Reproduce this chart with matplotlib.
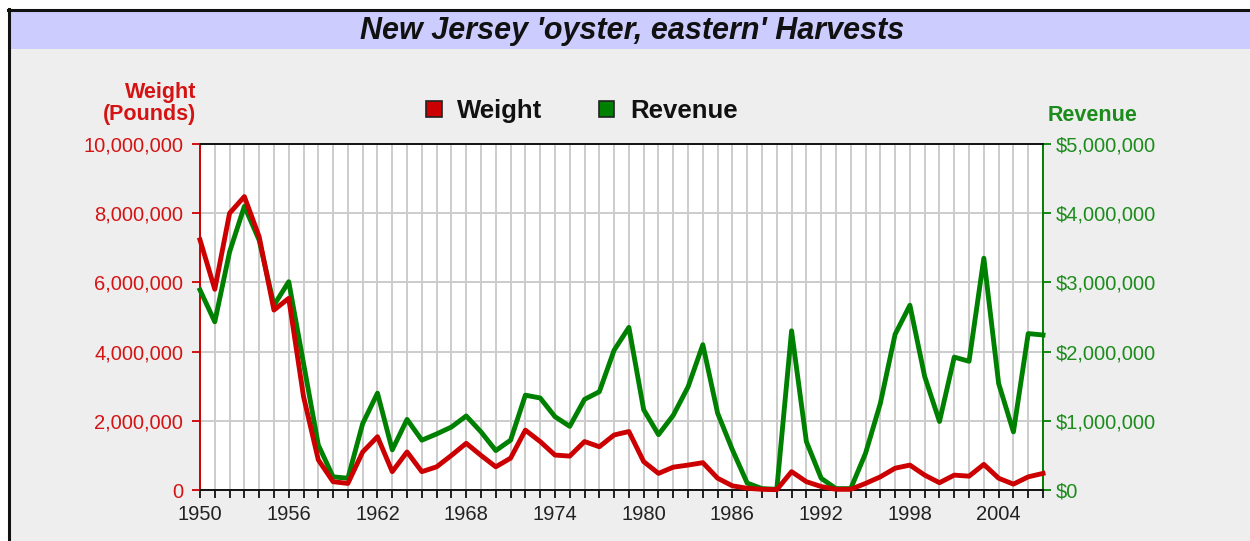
"""New Jersey 'oyster, eastern' harvests: weight and revenue by year."""

import numpy as np
import matplotlib
matplotlib.use("Agg")
from matplotlib import pyplot as plt
from matplotlib.patches import Patch, Rectangle
from matplotlib.lines import Line2D
from matplotlib.ticker import FuncFormatter, MultipleLocator

plt.rcParams["font.family"] = ["Liberation Sans", "DejaVu Sans"]

TITLE = "New Jersey 'oyster, eastern' Harvests"
years = np.arange(1950, 2008)
weight = [
    7230000, 5800000, 8000000, 8480000, 7320000, 5200000, 5540000, 2700000, 870000, 240000,
    190000, 1100000, 1540000, 530000, 1100000, 530000, 670000, 1000000, 1350000, 1000000,
    670000, 920000, 1730000, 1400000, 1010000, 980000, 1400000, 1250000, 1590000, 1690000,
    820000, 480000, 660000, 720000, 790000, 340000, 120000, 50000, 20000, 10000,
    530000, 240000, 100000, 20000, 20000, 190000, 380000, 630000, 720000, 430000,
    210000, 430000, 400000, 740000, 340000, 170000, 380000, 480000,
]
revenue = [
    2890000, 2430000, 3440000, 4100000, 3610000, 2670000, 3010000, 1830000, 650000, 190000,
    170000, 960000, 1400000, 580000, 1020000, 720000, 810000, 910000, 1070000, 840000,
    570000, 720000, 1370000, 1330000, 1060000, 920000, 1310000, 1420000, 2020000, 2350000,
    1160000, 800000, 1080000, 1490000, 2100000, 1110000, 580000, 100000, 20000, 10000,
    2300000, 700000, 170000, 20000, 20000, 530000, 1250000, 2250000, 2670000, 1640000,
    990000, 1920000, 1860000, 3350000, 1540000, 840000, 2260000, 2240000,
]

RED, GREEN = "#cc0000", "#008000"
RED_TXT, GREEN_TXT = "#d41414", "#1c8c1c"
W, H = 1250, 541
TICK_FS = 14.5

fig = plt.figure(figsize=(W / 100, H / 100), dpi=100)
fig.patch.set_facecolor("white")

# фон, полоса заголовка и рамка
fig.add_artist(Rectangle((10 / W, 0), 1, (H - 11) / H, transform=fig.transFigure,
                         fc="#eeeeee", ec="none", zorder=0))
fig.add_artist(Rectangle((10 / W, (H - 49) / H), 1, 37 / H, transform=fig.transFigure,
                         fc="#ccccff", ec="none", zorder=0))
fig.add_artist(Line2D([8.5 / W, 8.5 / W], [0, (H - 9) / H], transform=fig.transFigure,
                      color="#111111", lw=2.2))
fig.add_artist(Line2D([7.5 / W, 1], [(H - 10) / H] * 2, transform=fig.transFigure,
                      color="#111111", lw=2.2))
fig.text(632 / W, 1 - 31 / H, TITLE, ha="center", va="center", fontsize=22,
         weight="bold", style="italic", color="#111111")

# основная ось - выручка (справа), twin - вес (слева), чтобы красная линия была сверху
ax = fig.add_axes([200 / W, (H - 490) / H, 843 / W, 346 / H])
ax.set_facecolor("white")
ax.plot(years, revenue, color=GREEN, lw=3.5, clip_on=False, zorder=3)
ax2 = ax.twinx()
ax2.plot(years, weight, color=RED, lw=3.5, clip_on=False, zorder=3)

ax.set_xlim(1950, 2007)
ax.set_ylim(0, 5000000)
ax.yaxis.tick_right()
ax.yaxis.set_label_position("right")
ax.yaxis.set_major_locator(MultipleLocator(1000000))
ax.yaxis.set_major_formatter(FuncFormatter(lambda v, _: f"${v:,.0f}"))
ax.xaxis.set_major_locator(MultipleLocator(6))
ax.xaxis.set_minor_locator(MultipleLocator(1))
ax.grid(which="both", axis="x", color="#cccccc", lw=1.4)
ax.grid(which="major", axis="y", color="#cccccc", lw=1.4)
ax.set_axisbelow(True)
ax.tick_params(axis="x", which="both", length=6, width=1.3, color="#111111",
               labelsize=TICK_FS, labelcolor="#222222", pad=5)
ax.tick_params(axis="y", length=6, width=1.3, color=GREEN, labelcolor=GREEN_TXT,
               labelsize=TICK_FS, pad=3)
for s in ax.spines.values():
    s.set_linewidth(1.4)
    s.set_color("#111111")
ax.spines["left"].set_color(RED)
ax.spines["right"].set_color(GREEN)

ax2.set_ylim(0, 10000000)
ax2.yaxis.tick_left()
ax2.yaxis.set_label_position("left")
ax2.yaxis.set_major_locator(MultipleLocator(2000000))
ax2.yaxis.set_major_formatter(FuncFormatter(lambda v, _: f"{v:,.0f}"))
ax2.tick_params(axis="y", length=6, width=1.3, color=RED, labelcolor=RED_TXT,
                labelsize=TICK_FS, pad=6)
for s in ax2.spines.values():
    s.set_visible(False)

# подписи осей
fig.text(196 / W, 1 - 98 / H, "Weight", ha="right", va="baseline", fontsize=15.5,
         weight="bold", color=RED_TXT)
fig.text(196 / W, 1 - 120 / H, "(Pounds)", ha="right", va="baseline", fontsize=15.5,
         weight="bold", color=RED_TXT)
fig.text(1048 / W, 1 - 121 / H, "Revenue", ha="left", va="baseline", fontsize=15.5,
         weight="bold", color=GREEN_TXT)

handles = [Patch(fc=RED, ec="#222222", lw=1.2, label="Weight"),
           Patch(fc=GREEN, ec="#222222", lw=1.2, label="Revenue")]
fig.legend(handles=handles, loc="center", bbox_to_anchor=(582 / W, 1 - 111 / H),
           ncol=2, frameon=False, handlelength=0.6, handleheight=0.6,
           handletextpad=0.6, columnspacing=2.2, labelcolor="#111111",
           prop=dict(weight="bold", size=18.5))

fig.savefig("out.png", dpi=100)
